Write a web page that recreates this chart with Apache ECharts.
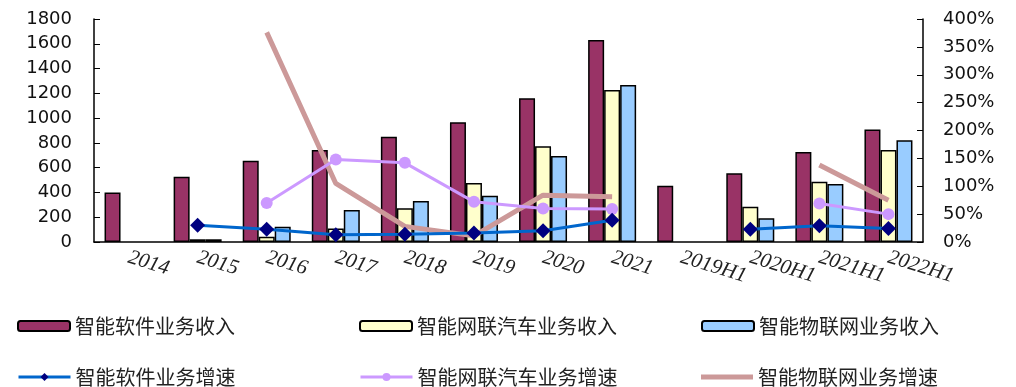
<!DOCTYPE html>
<html>
<head>
<meta charset="utf-8">
<script src="https://cdn.jsdelivr.net/npm/echarts@6/dist/echarts.min.js"></script>
<style>
  html, body { margin: 0; padding: 0; background: #fff; }
  #chart { width: 1016px; height: 387px; }
</style>
</head>
<body>
<div id="chart"></div>
<script>
const categories = ["2014", "2015", "2016", "2017", "2018", "2019", "2020", "2021", "2019H1", "2020H1", "2021H1", "2022H1"];

// revenue (left axis)
const softwareRevenue = [400, 527, 656, 742, 850, 966, 1160, 1630, 455, 554, 726, 909];
const carRevenue = [null, 22, 43, 108, 272, 476, 772, 1227, null, 285, 487, 742];
const iotRevenue = [null, 22, 124, 258, 331, 374, 694, 1267, null, 191, 468, 821];

// growth, percent (right axis)
const softwareGrowth = [null, 30, 23, 13, 14, 16, 20, 39, null, 23, 29, 24];
const carGrowth = [null, null, 70, 148, 142, 72, 60, 59, null, null, 69, 50];
const iotGrowth = [null, null, 376, 105, 28, 11, 84, 81, null, null, 138, 75];

const leftTicks = { min: 0, max: 1800, interval: 200 };
const rightTicks = { min: 0, max: 400, interval: 50 };

const names = [
  "智能软件业务收入", "智能网联汽车业务收入", "智能物联网业务收入",
  "智能软件业务增速", "智能网联汽车业务增速", "智能物联网业务增速"
];

const cjkFont = "'Noto Sans CJK SC', sans-serif";
const legendLeft = [12, 354, 696];
const legendTop = [311, 362];

function barSeries(name, data, color) {
  return {
    name,
    type: "bar",
    data,
    barWidth: 16,
    barGap: "0%",
    itemStyle: { color, borderColor: "#000", borderWidth: 1.5 },
  };
}

const legends = names.map((name, i) => ({
  data: [i === 5 ? { name, icon: "rect" } : name],
  left: legendLeft[i % 3],
  top: legendTop[Math.floor(i / 3)],
  itemWidth: 52,
  itemHeight: i === 5 ? 5 : 10,
  itemGap: 6,
  lineStyle: { width: 3 },
  textStyle: { fontFamily: cjkFont, fontSize: 20, color: "#222" },
}));

const chart = echarts.init(document.getElementById("chart"));
chart.setOption({
  animation: false,
  backgroundColor: "#fff",
  legend: legends,
  grid: { left: 94, right: 93, top: 19, bottom: 145 },
  xAxis: {
    type: "category",
    data: categories,
    axisLine: { lineStyle: { color: "#000", width: 1.5 } },
    axisTick: { inside: true, length: 5, lineStyle: { color: "#000" } },
    axisLabel: {
      interval: 0,
      rotate: -17,
      margin: 15,
      fontFamily: "'Liberation Serif', serif",
      fontStyle: "italic",
      fontSize: 21,
      color: "#222",
    },
  },
  yAxis: [
    {
      type: "value",
      ...leftTicks,
      splitLine: { show: false },
      axisLine: { show: true, lineStyle: { color: "#000", width: 1.5 } },
      axisTick: { show: true, inside: true, length: 6, lineStyle: { color: "#000" } },
      axisLabel: {
        margin: 22,
        formatter: (v) => String(v),
        fontFamily: "'DejaVu Sans', sans-serif",
        fontSize: 18,
        color: "#111",
      },
    },
    {
      type: "value",
      ...rightTicks,
      position: "right",
      splitLine: { show: false },
      axisLine: { show: true, lineStyle: { color: "#000", width: 1.5 } },
      axisTick: { show: true, inside: true, length: 6, lineStyle: { color: "#000" } },
      axisLabel: {
        margin: 20,
        formatter: "{value}%",
        fontFamily: "'DejaVu Sans', sans-serif",
        fontSize: 18,
        color: "#111",
      },
    },
  ],
  series: [
    barSeries(names[0], softwareRevenue, "#993366"),
    barSeries(names[1], carRevenue, "#FFFFCC"),
    barSeries(names[2], iotRevenue, "#99CCFF"),
    {
      name: names[3],
      type: "line",
      yAxisIndex: 1,
      data: softwareGrowth,
      symbol: "diamond",
      symbolSize: 15,
      z: 5,
      lineStyle: { color: "#0066CC", width: 3 },
      itemStyle: { color: "#000080" },
    },
    {
      name: names[4],
      type: "line",
      yAxisIndex: 1,
      data: carGrowth,
      symbol: "circle",
      symbolSize: 12,
      z: 4,
      lineStyle: { color: "#CC99FF", width: 3 },
      itemStyle: { color: "#CC99FF" },
    },
    {
      name: names[5],
      type: "line",
      yAxisIndex: 1,
      data: iotGrowth,
      symbol: "none",
      z: 3,
      lineStyle: { color: "#CC9999", width: 5 },
      itemStyle: { color: "#CC9999" },
    },
  ],
});
</script>
</body>
</html>
